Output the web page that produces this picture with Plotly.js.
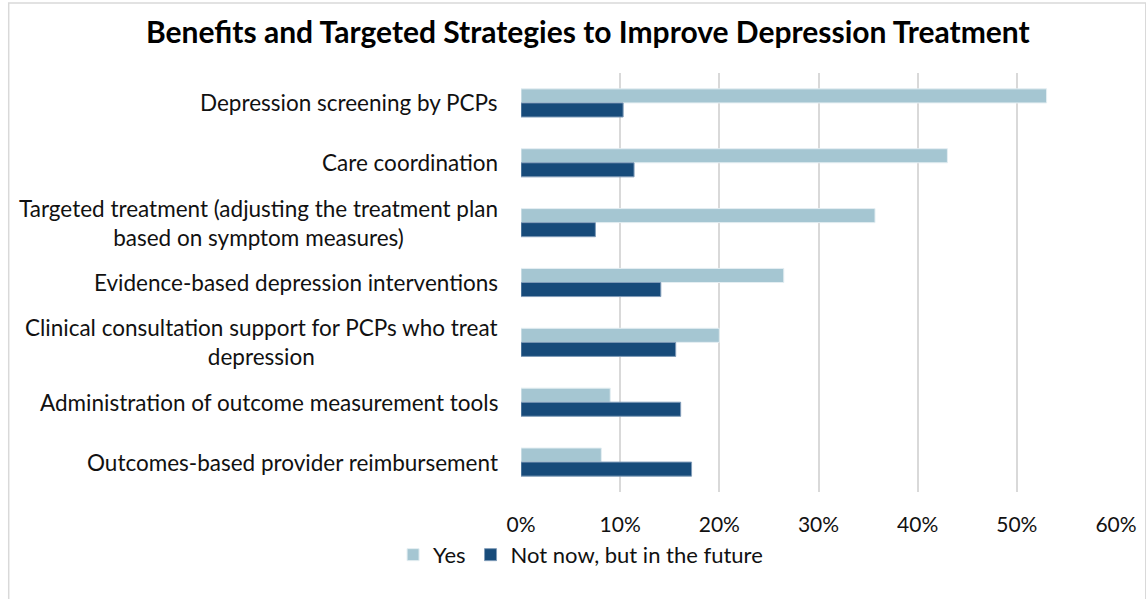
<!DOCTYPE html>
<html>
<head>
<meta charset="utf-8">
<script src="https://cdn.plot.ly/plotly-3.0.1.min.js"></script>
<style>html,body{margin:0;padding:0;background:#fff;}#chart{width:1146px;height:599px;}</style>
</head>
<body>
<div id="chart"></div>
<script>
const categories = [
  "Depression screening by PCPs",
  "Care coordination",
  "Targeted treatment (adjusting the treatment plan<br>based on symptom measures)",
  "Evidence-based depression interventions",
  "Clinical consultation support for PCPs who treat<br>depression",
  "Administration of outcome measurement tools",
  "Outcomes-based provider reimbursement"
];
const yesValues = [0.530, 0.430, 0.357, 0.265, 0.200, 0.090, 0.081];
const futureValues = [0.103, 0.114, 0.075, 0.141, 0.156, 0.161, 0.172];
const seriesNames = ["Yes", "Not now, but in the future"];
const xTicks = [0, 0.1, 0.2, 0.3, 0.4, 0.5, 0.6];
const xTickLabels = ["0%", "10%", "20%", "30%", "40%", "50%", "60%"];

const FONT = "Lato, 'Open Sans', sans-serif";

const traces = [
  {type: "bar", orientation: "h", name: seriesNames[0], y: categories, x: yesValues,
   marker: {color: "#A5C6D2", line: {color: "#E4EEF2", width: 1}}},
  {type: "bar", orientation: "h", name: seriesNames[1], y: categories, x: futureValues,
   marker: {color: "#174B7A", line: {color: "#7F9BB8", width: 1}}}
];

const annotations = categories.map(c => ({
  xref: "paper", yref: "y", x: -0.035, y: c, text: c, showarrow: false,
  xanchor: "right", yanchor: "middle", align: "center",
  font: {family: FONT, size: 22.5, color: "#111"}
}));

const layout = {
  width: 1146, height: 599,
  paper_bgcolor: "#fff", plot_bgcolor: "#fff",
  margin: {l: 521, r: 30, t: 73, b: 107},
  title: {text: "<b>Benefits and Targeted Strategies to Improve Depression Treatment</b>",
          x: 0.513, xanchor: "center", y: 0.945, yanchor: "middle",
          font: {family: FONT, size: 30, color: "#000"}},
  barmode: "group", bargap: 0.53, bargroupgap: 0,
  xaxis: {range: [0, 0.6], tickvals: xTicks, ticktext: xTickLabels,
          showgrid: true, gridcolor: "#D9D9D9", gridwidth: 2,
          zeroline: false, showline: false, ticks: "",
          tickfont: {family: FONT, size: 21, color: "#111"}, ticklabelstandoff: 18},
  yaxis: {type: "category", autorange: "reversed", showticklabels: false,
          showgrid: false, zeroline: false, showline: false, ticks: ""},
  showlegend: true,
  legend: {orientation: "h", x: -0.215, xanchor: "left", y: -0.15, yanchor: "middle",
           bgcolor: "rgba(0,0,0,0)",
           font: {family: FONT, size: 22, color: "#111"}, traceorder: "normal",
           itemwidth: 30},
  annotations: annotations,
  shapes: [
    {type: "rect", xref: "paper", yref: "paper", x0: -0.861, x1: 1.05, y0: -0.39, y1: 1.167,
     line: {color: "#D9D9D9", width: 1.5}, fillcolor: "rgba(0,0,0,0)", layer: "below"}
  ]
};

Plotly.newPlot("chart", traces, layout, {displayModeBar: false, staticPlot: true});
</script>
</body>
</html>
